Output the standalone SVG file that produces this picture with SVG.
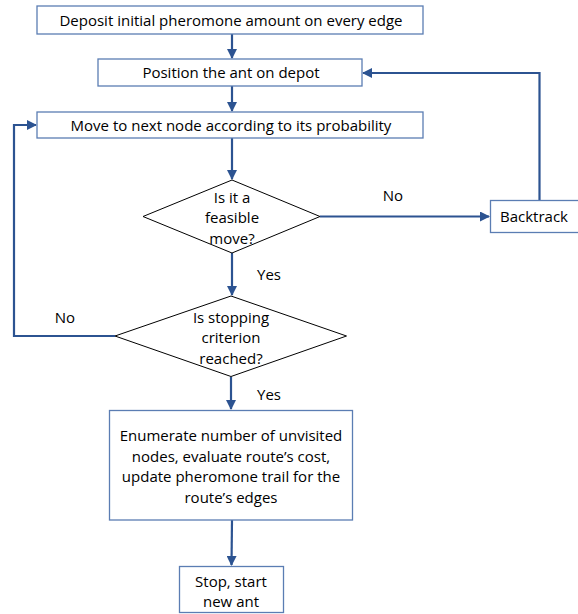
<svg xmlns="http://www.w3.org/2000/svg" width="578" height="614" viewBox="0 0 578 614">
<style>
.box{fill:#fff;stroke:#5b7db3;stroke-width:1.3}
.dia{fill:#fff;stroke:#000;stroke-width:1}
.t{font-family:"Open Sans","Liberation Sans",sans-serif;font-size:15px;fill:#000;text-anchor:middle}
.c{fill:none;stroke:#2c5391;stroke-width:2.2}
</style>
<defs>
<marker id="ah" markerWidth="10" markerHeight="10" refX="9" refY="5" orient="auto" markerUnits="userSpaceOnUse">
<path d="M0,0 L10,5 L0,10 Z" fill="#2c5391"/>
</marker>
</defs>
<rect width="578" height="614" fill="#fff"/>
<g id="connectors">
<path class="c" d="M232,34 V58" marker-end="url(#ah)"/>
<path class="c" d="M232,86 V111" marker-end="url(#ah)"/>
<path class="c" d="M232,138 V179" marker-end="url(#ah)"/>
<path class="c" d="M320,216.5 H489" marker-end="url(#ah)"/>
<path class="c" d="M539.5,200.5 V73 H363" marker-end="url(#ah)"/>
<path class="c" d="M232,253 V295" marker-end="url(#ah)"/>
<path class="c" d="M115,336 H14 V125 H36" marker-end="url(#ah)"/>
<path class="c" d="M231,377 V409" marker-end="url(#ah)"/>
<path class="c" d="M232,520 L231.5,565" marker-end="url(#ah)"/>
<text class="t" x="393" y="201">No</text>
<text class="t" x="269" y="280">Yes</text>
<text class="t" x="65" y="323">No</text>
<text class="t" x="269" y="400">Yes</text>
</g>
<g id="n1"><rect class="box" x="37" y="6" width="386" height="28"/><text class="t" x="231" y="25.5">Deposit initial pheromone amount on every edge</text></g>
<g id="n2"><rect class="box" x="98" y="59" width="264" height="27"/><text class="t" x="231" y="78">Position the ant on depot</text></g>
<g id="n3"><rect class="box" x="37" y="112" width="386" height="26"/><text class="t" x="231" y="130.5">Move to next node according to its probability</text></g>
<g id="d1"><path class="dia" d="M232,180 L320,216.5 L232,253 L143,216.5 Z"/>
<text class="t" x="232" y="203">Is it a</text><text class="t" x="232" y="223">feasible</text><text class="t" x="232" y="244">move?</text></g>
<g id="bt"><rect class="box" x="490.5" y="200.5" width="95" height="32"/><text class="t" x="534" y="222">Backtrack</text></g>
<g id="d2"><path class="dia" d="M231,296 L346.5,336 L231,376.5 L115,336 Z"/>
<text class="t" x="231" y="323">Is stopping</text><text class="t" x="231" y="343">criterion</text><text class="t" x="231" y="364">reached?</text></g>
<g id="n4"><rect class="box" x="109.5" y="410.5" width="243" height="109.5"/>
<text class="t" x="231" y="441">Enumerate number of unvisited</text>
<text class="t" x="231" y="461.5">nodes, evaluate route’s cost,</text>
<text class="t" x="231" y="482">update pheromone trail for the</text>
<text class="t" x="231" y="502.5">route’s edges</text></g>
<g id="n5"><rect class="box" x="179.5" y="566.5" width="104" height="46"/>
<text class="t" x="231" y="586.5">Stop, start</text><text class="t" x="231" y="606.5">new ant</text></g>
</svg>
